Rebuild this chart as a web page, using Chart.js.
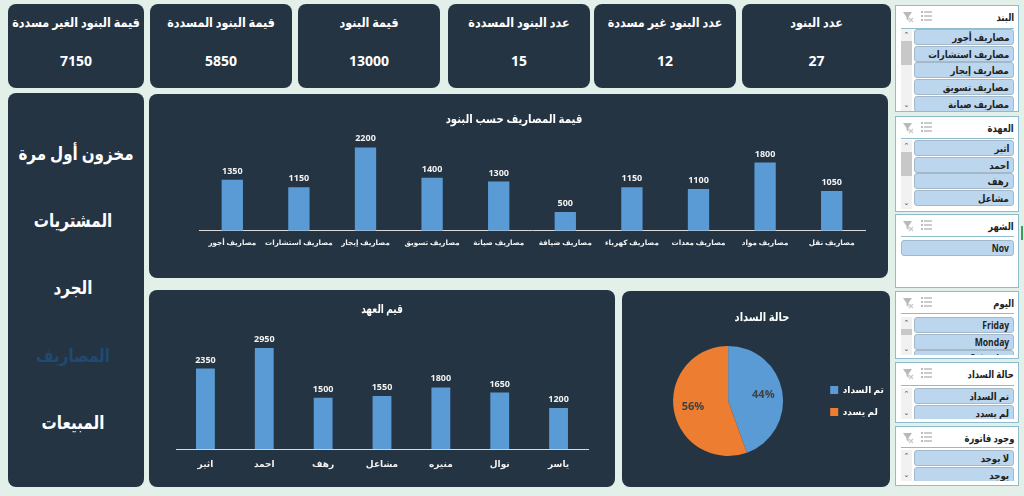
<!DOCTYPE html>
<html lang="ar">
<head>
<meta charset="utf-8">
<title>لوحة المصاريف</title>
<script src="https://cdn.jsdelivr.net/npm/chart.js@4/dist/chart.umd.min.js"></script>
<style>
  html, body { margin: 0; padding: 0; }
  body { width: 1024px; height: 496px; overflow: hidden; position: relative; background: #e2f0e9; font-family: "Open Sans", "DejaVu Sans", sans-serif; }
  .panel { position: absolute; background: #243443; border-radius: 8px; }
  .panel canvas { position: absolute; left: 0; top: 0; }
  .kpi { color: #fff; text-align: center; font-weight: bold; }
  .kpi .t { position: absolute; left: -20px; right: -20px; top: 7px; font-size: 13px; line-height: 22px; white-space: nowrap; transform: scaleX(0.86); }
  .kpi .v { position: absolute; left: 0; right: 0; top: 47px; font-size: 14px; line-height: 20px; }
  .nav { position: absolute; left: 8px; width: 130px; text-align: center; font-size: 18px; line-height: 30px; font-weight: bold; color: #fff; white-space: nowrap; transform: scaleX(0.84); }
  .ctitle { position: absolute; width: 300px; margin-left: -150px; text-align: center; color: #fff; font-size: 12px; line-height: 18px; font-weight: bold; white-space: nowrap; }
  .slicer { position: absolute; left: 895px; width: 122px; background: #fff; border: 1px solid #8fbccc; overflow: hidden; }
  .slicer .h { position: absolute; right: 4px; top: 3px; font-size: 10.5px; line-height: 16px; font-weight: bold; color: #222; white-space: nowrap; transform: scaleX(0.8); transform-origin: right center; }
  .slicer .ln { position: absolute; left: 5px; right: 4px; height: 1px; background: #8fbccc; }
  .slicer .body { position: absolute; left: 0; right: 0; overflow: hidden; }
  .slicer .it { position: absolute; right: 4px; height: 14px; background: #bcd6ee; border: 1px solid #a3b8c9; border-radius: 3px; box-sizing: content-box; text-align: right; padding-right: 4px; font-size: 10px; line-height: 14px; font-weight: bold; color: #222; white-space: nowrap; overflow: hidden; }
  .slicer .it span { display: inline-block; transform: scaleX(0.86); transform-origin: right center; }
  .slicer .sb { position: absolute; left: 5px; width: 11px; top: 0; bottom: 0; background: #f1f1f1; }
  .slicer .th { position: absolute; left: 0; right: 0; background: #c8c8c8; }
  .slicer .ar { position: absolute; left: 0; right: 0; text-align: center; font-size: 7px; line-height: 8px; color: #444; }
  .slicer svg { position: absolute; left: 6px; top: 4px; }
  .cellmark { position: absolute; left: 1021px; top: 226px; width: 2px; height: 14px; background: #3f9a5f; }
</style>
</head>
<body>
<div class="cellmark"></div>
<script>
const kpiTitles = ['قيمة البنود الغير مسددة', 'قيمة البنود المسددة', 'قيمة البنود', 'عدد البنود المسددة', 'عدد البنود غير مسددة', 'عدد البنود'];
const kpiValues = ['7150', '5850', '13000', '15', '12', '27'];
const navLabels = ['مخزون أول مرة', 'المشتريات', 'الجرد', 'المصاريف', 'المبيعات'];

const itemCats = ['مصاريف أجور', 'مصاريف استشارات', 'مصاريف إيجار', 'مصاريف تسويق', 'مصاريف صيانة', 'مصاريف ضيافة', 'مصاريف كهرباء', 'مصاريف معدات', 'مصاريف مواد', 'مصاريف نقل'];
const itemVals = [1350, 1150, 2200, 1400, 1300, 500, 1150, 1100, 1800, 1050];

const custodyCats = ['اثير', 'احمد', 'رهف', 'مشاعل', 'منيره', 'نوال', 'ياسر'];
const custodyVals = [2350, 2950, 1500, 1550, 1800, 1650, 1200];

const payCats = ['تم السداد', 'لم يسدد'];
const payVals = [12, 15];

const slicerNames = ['البند', 'العهدة', 'الشهر', 'اليوم', 'حالة السداد', 'وجود فاتورة'];
const slicerItems = [
  ['مصاريف أجور', 'مصاريف استشارات', 'مصاريف إيجار', 'مصاريف تسويق', 'مصاريف صيانة'],
  ['اثير', 'احمد', 'رهف', 'مشاعل'],
  ['Nov'],
  ['Friday', 'Monday', 'Saturday'],
  ['تم السداد', 'لم يسدد'],
  ['لا يوجد', 'يوجد']
];

const FONT = '"Open Sans", "DejaVu Sans", sans-serif';

function addPanel(x, y, w, h, cls) {
  const d = document.createElement('div');
  d.className = 'panel' + (cls ? ' ' + cls : '');
  d.style.cssText = `left:${x}px;top:${y}px;width:${w}px;height:${h}px`;
  document.body.appendChild(d);
  return d;
}

function addTitle(panel, text, cx, cy, sx) {
  const d = document.createElement('div');
  d.className = 'ctitle';
  d.textContent = text;
  d.style.left = cx + 'px';
  d.style.top = (cy - 9) + 'px';
  d.style.transform = `scaleX(${sx})`;
  panel.appendChild(d);
}

// top cards
const kpiBoxes = [[8, 136], [150, 142], [298, 142], [448, 142], [594, 142], [742, 149]];
kpiBoxes.forEach(function(b, i) {
  const d = addPanel(b[0], 4, b[1], 84, 'kpi');
  d.innerHTML = `<div class="t">${kpiTitles[i]}</div><div class="v">${kpiValues[i]}</div>`;
});

// left menu
addPanel(8, 93, 136, 394);
const navY = [153, 220, 287, 355, 422];
navLabels.forEach(function(t, i) {
  const d = document.createElement('div');
  d.className = 'nav';
  d.textContent = t;
  d.style.top = (navY[i] - 15) + 'px';
  if (i === 3) d.style.color = '#1f4a74';
  document.body.appendChild(d);
});

// slicers
const slicerBoxes = [
  { y: 5, h: 107, line: 23, body: 24, clip: 82, step: 16.7, bar: true, thumb: [12, 24] },
  { y: 116, h: 96, line: 22, body: 24, clip: 69, step: 16.7, bar: true, thumb: [12, 24] },
  { y: 214, h: 74, line: 22, body: 26, clip: 40, step: 16.7, bar: false },
  { y: 291, h: 68, line: 22, body: 26, clip: 38, step: 16.7, bar: true, thumb: [12, 6] },
  { y: 362, h: 61, line: 23, body: 26, clip: 31, step: 16.7, bar: true },
  { y: 426, h: 60, line: 21, body: 24, clip: 31, step: 16.7, bar: true }
];
const icons = '<svg width="34" height="14" viewBox="0 0 34 14"><path d="M1 2h9L6.5 7v4L4.5 9V7z" fill="#b9b9b9"/><path d="M7 8l4 4m0-4l-4 4" stroke="#c9c9c9" stroke-width="1.2"/><path d="M22 2h8M22 6h8M22 10h8" stroke="#9a9a9a"/><path d="M19 2h2M19 6h2M19 10h2" stroke="#777"/></svg>';
slicerBoxes.forEach(function(s, i) {
  const d = document.createElement('div');
  d.className = 'slicer';
  d.style.cssText = `top:${s.y}px;height:${s.h - 2}px`;
  let html = icons + `<div class="h">${slicerNames[i]}</div><div class="ln" style="top:${s.line - 1}px"></div>`;
  html += `<div class="body" style="top:${s.body - 1}px;height:${s.clip}px">`;
  if (s.bar) {
    html += '<div class="sb">';
    html += '<div class="ar" style="top:2px">&#8963;</div>';
    if (s.thumb) html += `<div class="th" style="top:${s.thumb[0]}px;height:${s.thumb[1]}px"></div>`;
    html += '<div class="ar" style="bottom:2px">&#8964;</div></div>';
  }
  slicerItems[i].forEach(function(t, k) {
    const left = s.bar ? 18 : 5;
    html += `<div class="it" style="top:${k * s.step}px;left:${left}px"><span>${t}</span></div>`;
  });
  html += '</div>';
  d.innerHTML = html;
  document.body.appendChild(d);
});

// value labels over the bars
const barValues = {
  id: 'barValues',
  afterDatasetsDraw(chart) {
    const ctx = chart.ctx;
    const meta = chart.getDatasetMeta(0);
    ctx.save();
    ctx.font = 'bold 9px ' + FONT;
    ctx.fillStyle = '#f2f2f2';
    ctx.textAlign = 'center';
    ctx.textBaseline = 'bottom';
    meta.data.forEach(function(bar, i) {
      ctx.fillText(chart.data.datasets[0].data[i], bar.x, bar.y - 4);
    });
    ctx.restore();
  }
};

// percentages inside the pie
const pieValues = {
  id: 'pieValues',
  afterDatasetsDraw(chart) {
    const ctx = chart.ctx;
    const data = chart.data.datasets[0].data;
    const total = data.reduce(function(a, b) { return a + b; }, 0);
    ctx.save();
    ctx.font = 'bold 11px ' + FONT;
    ctx.fillStyle = '#404040';
    ctx.textAlign = 'center';
    ctx.textBaseline = 'middle';
    chart.getDatasetMeta(0).data.forEach(function(arc, i) {
      const mid = (arc.startAngle + arc.endAngle) / 2;
      const r = arc.outerRadius * 0.65;
      const txt = Math.round(data[i] / total * 100) + '%';
      ctx.fillText(txt, arc.x + Math.cos(mid) * r, arc.y + Math.sin(mid) * r);
    });
    ctx.restore();
  }
};

function createBar(panel, w, h, labels, data, max, pad, tickSize, tickPad) {
  const c = document.createElement('canvas');
  c.width = w; c.height = h;
  panel.appendChild(c);
  new Chart(c.getContext('2d'), {
    type: 'bar',
    plugins: [barValues],
    data: {
      labels: labels,
      datasets: [{ data: data, backgroundColor: '#5b9bd5', categoryPercentage: 1, barPercentage: 0.32 }]
    },
    options: {
      responsive: false,
      animation: false,
      layout: { padding: pad },
      plugins: {
        legend: { display: false },
        tooltip: { enabled: false }
      },
      scales: {
        y: { display: false, min: 0, max: max },
        x: {
          grid: { display: false, drawTicks: false },
          border: { color: '#d9d9d9', width: 1 },
          ticks: { color: '#f2f2f2', maxRotation: 0, autoSkip: false, padding: tickPad, font: { family: FONT, size: tickSize, weight: 'bold' } }
        }
      }
    }
  });
}

const itemPanel = addPanel(149, 94, 739, 184);
createBar(itemPanel, 739, 184, itemCats, itemVals, 2500, { left: 50, right: 23, top: 42, bottom: 22.5 }, 7.2, 8);
addTitle(itemPanel, 'قيمة المصاريف حسب البنود', 365, 25, 0.845);

const custodyPanel = addPanel(149, 290, 466, 197);
createBar(custodyPanel, 466, 197, custodyCats, custodyVals, 3500, { left: 27, right: 27, top: 39, bottom: 7 }, 9, 10);
addTitle(custodyPanel, 'قيم العهد', 233, 19, 0.75);

// pie
const piePanel = addPanel(622, 291, 268, 196);
const pieCanvas = document.createElement('canvas');
pieCanvas.width = 268; pieCanvas.height = 196;
piePanel.appendChild(pieCanvas);
new Chart(pieCanvas.getContext('2d'), {
  type: 'pie',
  plugins: [pieValues],
  data: {
    labels: payCats,
    datasets: [{ data: payVals, backgroundColor: ['#5b9bd5', '#ed7d31'], borderWidth: 0 }]
  },
  options: {
    responsive: false,
    animation: false,
    layout: { padding: { left: 17, right: -4, top: 55, bottom: 31 } },
    plugins: {
      tooltip: { enabled: false },
      legend: {
        position: 'right',
        labels: { color: '#fff', boxWidth: 8, boxHeight: 8, padding: 13, font: { family: FONT, size: 9, weight: 'bold' } }
      }
    }
  }
});
addTitle(piePanel, 'حالة السداد', 140, 26, 0.83);
</script>
</body>
</html>
